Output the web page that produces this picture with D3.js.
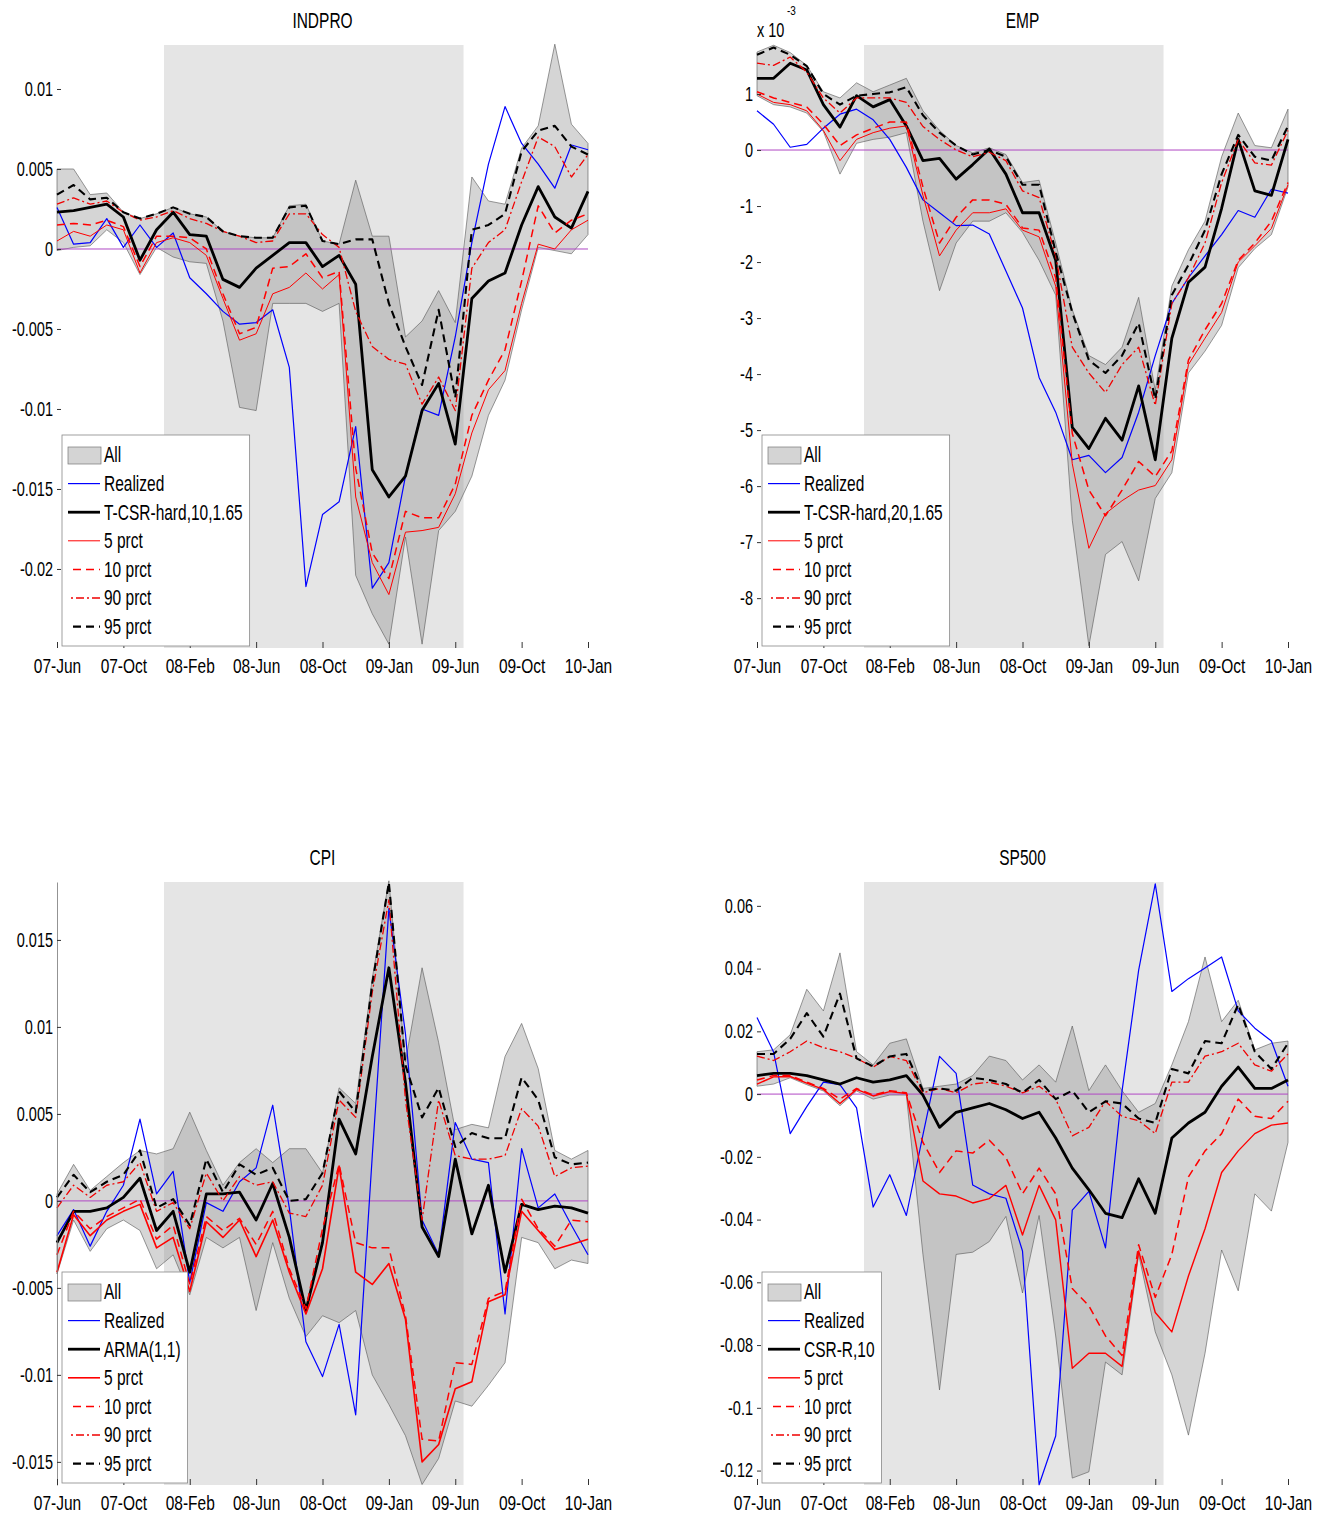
<!DOCTYPE html>
<html>
<head>
<meta charset="utf-8">
<script src="https://cdn.jsdelivr.net/npm/d3@7"></script>
<style>
  body { margin: 0; background: #fff; }
  text { font-family: "Liberation Sans", Arial, sans-serif; fill: #000; }
</style>
</head>
<body>
<div id="chart"></div>
<script>
// ---- data: monthly forecasts, Jun 2007 .. Feb 2010 (33 months) ----
const xTickIdx = [0, 4, 8, 12, 16, 20, 24, 28, 32];
const xTickLabels = ["07-Jun", "07-Oct", "08-Feb", "08-Jun", "08-Oct", "09-Jan", "09-Jun", "09-Oct", "10-Jan"];
const recession = [6.45, 24.5]; // shaded period, in month index units

// INDPRO
const indproRealized = [0.0026, 0.0003, 0.0004, 0.0019, 0.0001, 0.0015, 0.0001, 0.0010, -0.0018, -0.0028, -0.0039, -0.0047, -0.0046, -0.0038, -0.0074, -0.0211, -0.0166, -0.0158, -0.0111, -0.0212, -0.0196, -0.0142, -0.0100, -0.0104, -0.0055, 0.0004, 0.0053, 0.0089, 0.0066, 0.0053, 0.0038, 0.0065, 0.0062];
const indproModel = [0.0023, 0.0024, 0.0026, 0.0028, 0.0020, -0.0007, 0.0012, 0.0023, 0.0009, 0.0008, -0.0019, -0.0024, -0.0012, -0.0004, 0.0004, 0.0004, -0.0011, -0.0004, -0.0022, -0.0138, -0.0155, -0.0142, -0.0101, -0.0084, -0.0122, -0.0031, -0.0020, -0.0015, 0.0015, 0.0039, 0.0020, 0.0013, 0.0036];
const indproP5 = [0.0005, 0.0011, 0.0008, 0.0015, 0.0012, -0.0015, 0.0004, 0.0007, 0.0004, -0.0004, -0.0031, -0.0057, -0.0053, -0.0028, -0.0024, -0.0015, -0.0025, -0.0016, -0.0155, -0.0196, -0.0216, -0.0177, -0.0176, -0.0174, -0.0153, -0.0115, -0.0088, -0.0076, -0.0034, 0.0003, 0.0000, 0.0012, 0.0018];
const indproP10 = [0.0015, 0.0016, 0.0015, 0.0018, 0.0014, -0.0011, 0.0008, 0.0008, 0.0007, 0.0000, -0.0028, -0.0053, -0.0049, -0.0012, -0.0011, -0.0003, -0.0018, -0.0014, -0.0137, -0.0190, -0.0206, -0.0164, -0.0168, -0.0168, -0.0147, -0.0104, -0.0082, -0.0063, -0.0020, 0.0027, 0.0010, 0.0018, 0.0022];
const indproP90 = [0.0028, 0.0032, 0.0028, 0.0030, 0.0023, 0.0018, 0.0020, 0.0024, 0.0019, 0.0016, 0.0011, 0.0008, 0.0004, 0.0005, 0.0022, 0.0022, 0.0009, 0.0001, -0.0039, -0.0061, -0.0069, -0.0072, -0.0097, -0.0080, -0.0101, -0.0012, 0.0004, 0.0012, 0.0042, 0.0070, 0.0064, 0.0045, 0.0059];
const indproP95 = [0.0034, 0.0040, 0.0031, 0.0032, 0.0023, 0.0019, 0.0022, 0.0026, 0.0022, 0.0020, 0.0011, 0.0008, 0.0007, 0.0007, 0.0026, 0.0027, 0.0005, 0.0003, 0.0006, 0.0006, -0.0034, -0.0061, -0.0085, -0.0038, -0.0093, 0.0012, 0.0015, 0.0022, 0.0061, 0.0074, 0.0077, 0.0064, 0.0059];
const indproHi = [0.0050, 0.0050, 0.0034, 0.0035, 0.0023, 0.0019, 0.0022, 0.0026, 0.0022, 0.0020, 0.0011, 0.0008, 0.0007, 0.0007, 0.0027, 0.0028, 0.0005, 0.0003, 0.0043, 0.0008, 0.0008, -0.0055, -0.0045, -0.0026, -0.0046, 0.0045, 0.0030, 0.0028, 0.0063, 0.0077, 0.0128, 0.0078, 0.0066];
const indproLo = [-0.0001, 0.0001, 0.0002, 0.0012, 0.0004, -0.0016, 0.0001, -0.0005, -0.0008, -0.0009, -0.0045, -0.0099, -0.0101, -0.0034, -0.0034, -0.0034, -0.0039, -0.0034, -0.0204, -0.0228, -0.0247, -0.0180, -0.0247, -0.0176, -0.0164, -0.0142, -0.0104, -0.0082, -0.0038, 0.0001, -0.0001, -0.0003, 0.0009];
const indproTicks = [-0.02, -0.015, -0.01, -0.005, 0, 0.005, 0.01];

// EMP (x 1e-3)
const empRealized = [0.70, 0.46, 0.05, 0.10, 0.39, 0.64, 0.73, 0.54, 0.19, -0.31, -0.89, -1.12, -1.35, -1.34, -1.50, -2.16, -2.82, -4.06, -4.68, -5.53, -5.45, -5.76, -5.49, -4.68, -3.67, -2.74, -2.28, -1.89, -1.51, -1.08, -1.20, -0.70, -0.77];
const empModel = [1.28, 1.28, 1.55, 1.43, 0.81, 0.41, 0.97, 0.77, 0.90, 0.43, -0.19, -0.15, -0.52, -0.26, 0.02, -0.43, -1.12, -1.12, -1.97, -4.95, -5.33, -4.79, -5.18, -4.21, -5.53, -3.36, -2.36, -2.09, -1.04, 0.19, -0.73, -0.81, 0.19];
const empP5 = [1.00, 0.85, 0.81, 0.70, 0.35, -0.19, 0.19, 0.31, 0.39, 0.43, -0.81, -1.89, -1.43, -1.12, -1.12, -1.05, -1.43, -1.55, -2.43, -5.60, -7.11, -6.49, -6.26, -6.07, -5.99, -5.53, -3.83, -3.36, -2.90, -2.00, -1.71, -1.40, -0.62];
const empP10 = [1.04, 0.93, 0.85, 0.77, 0.46, 0.08, 0.27, 0.39, 0.50, 0.50, -0.66, -1.66, -1.20, -0.89, -0.89, -0.97, -1.39, -1.43, -2.28, -5.06, -6.07, -6.53, -6.07, -5.56, -5.83, -5.37, -3.75, -3.21, -2.74, -1.97, -1.66, -1.27, -0.58];
const empP90 = [1.55, 1.51, 1.66, 1.39, 0.93, 0.66, 0.93, 0.93, 0.93, 0.85, 0.42, 0.19, 0.00, -0.12, -0.04, -0.19, -0.73, -0.85, -1.89, -3.52, -3.98, -4.33, -3.83, -3.52, -4.56, -2.74, -2.28, -1.66, -0.58, 0.19, -0.23, -0.27, 0.35];
const empP95 = [1.70, 1.83, 1.70, 1.50, 1.00, 0.81, 0.97, 1.00, 1.03, 1.12, 0.62, 0.31, 0.08, -0.08, 0.00, -0.12, -0.62, -0.62, -1.82, -2.90, -3.75, -3.98, -3.67, -3.09, -4.45, -2.59, -2.05, -1.43, -0.43, 0.27, -0.12, -0.19, 0.43];
const empHi = [1.75, 1.87, 1.74, 1.51, 1.04, 0.93, 1.20, 1.04, 1.16, 1.28, 0.70, 0.35, 0.08, -0.05, 0.04, -0.08, -0.58, -0.54, -1.66, -2.85, -3.67, -3.83, -3.52, -2.63, -4.29, -2.43, -1.78, -1.27, -0.12, 0.66, 0.08, 0.04, 0.73];
const empLo = [0.97, 0.81, 0.77, 0.66, 0.33, -0.43, 0.12, 0.19, 0.23, 0.31, -1.27, -2.51, -1.66, -1.27, -1.27, -1.12, -1.47, -1.97, -2.59, -6.61, -8.85, -7.22, -6.99, -7.69, -6.22, -5.76, -3.98, -3.59, -3.13, -2.10, -1.76, -1.51, -0.66];
const empTicks = [-8, -7, -6, -5, -4, -3, -2, -1, 0, 1];

// CPI
const cpiRealized = [-0.0020, -0.0005, -0.0026, -0.0006, 0.0009, 0.0047, 0.0004, 0.0017, -0.0047, -0.0001, -0.0006, 0.0011, 0.0019, 0.0055, -0.0004, -0.0081, -0.0101, -0.0071, -0.0123, 0.0026, 0.0168, 0.0096, -0.0011, -0.0031, 0.0045, 0.0024, 0.0022, -0.0065, 0.0030, -0.0004, 0.0004, -0.0014, -0.0031];
const cpiModel = [-0.0024, -0.0006, -0.0006, -0.0004, 0.0002, 0.0013, -0.0017, -0.0006, -0.0041, 0.0004, 0.0004, 0.0005, -0.0011, 0.0010, -0.0021, -0.0063, -0.0024, 0.0047, 0.0027, 0.0083, 0.0134, 0.0068, -0.0015, -0.0032, 0.0024, -0.0019, 0.0009, -0.0041, -0.0002, -0.0005, -0.0003, -0.0004, -0.0007];
const cpiP5 = [-0.0041, -0.0008, -0.0020, -0.0011, -0.0006, -0.0002, -0.0027, -0.0021, -0.0052, -0.0012, -0.0021, -0.0011, -0.0032, -0.0011, -0.0041, -0.0065, -0.0039, 0.0020, -0.0041, -0.0048, -0.0036, -0.0068, -0.0150, -0.0140, -0.0108, -0.0104, -0.0058, -0.0054, -0.0006, -0.0017, -0.0028, -0.0025, -0.0022];
const cpiP10 = [-0.0031, -0.0006, -0.0016, -0.0009, -0.0004, 0.0001, -0.0022, -0.0014, -0.0048, -0.0009, -0.0017, -0.0010, -0.0025, -0.0006, -0.0039, -0.0062, -0.0016, 0.0021, -0.0024, -0.0027, -0.0027, -0.0066, -0.0137, -0.0138, -0.0093, -0.0094, -0.0056, -0.0052, 0.0001, -0.0016, -0.0026, -0.0011, -0.0012];
const cpiP90 = [-0.0004, 0.0009, 0.0002, 0.0009, 0.0011, 0.0022, -0.0006, -0.0001, -0.0016, 0.0016, 0.0000, 0.0014, 0.0009, 0.0011, -0.0007, -0.0009, 0.0009, 0.0058, 0.0048, 0.0120, 0.0173, 0.0058, -0.0011, 0.0058, 0.0026, 0.0024, 0.0024, 0.0026, 0.0053, 0.0043, 0.0014, 0.0019, 0.0020];
const cpiP95 = [0.0002, 0.0015, 0.0005, 0.0011, 0.0015, 0.0029, -0.0004, 0.0001, -0.0014, 0.0024, 0.0005, 0.0021, 0.0015, 0.0019, 0.0000, 0.0001, 0.0016, 0.0063, 0.0051, 0.0125, 0.0183, 0.0078, 0.0048, 0.0065, 0.0031, 0.0039, 0.0036, 0.0036, 0.0071, 0.0058, 0.0025, 0.0021, 0.0022];
const cpiHi = [0.0004, 0.0021, 0.0006, 0.0014, 0.0022, 0.0029, 0.0027, 0.0030, 0.0051, 0.0029, 0.0009, 0.0022, 0.0030, 0.0022, 0.0030, 0.0030, 0.0016, 0.0065, 0.0056, 0.0128, 0.0184, 0.0080, 0.0134, 0.0091, 0.0041, 0.0044, 0.0042, 0.0083, 0.0102, 0.0076, 0.0029, 0.0024, 0.0029];
const cpiLo = [-0.0042, -0.0011, -0.0029, -0.0016, -0.0011, -0.0017, -0.0039, -0.0031, -0.0054, -0.0021, -0.0027, -0.0021, -0.0063, -0.0024, -0.0056, -0.0078, -0.0066, -0.0070, -0.0063, -0.0100, -0.0117, -0.0135, -0.0163, -0.0148, -0.0115, -0.0118, -0.0106, -0.0093, -0.0021, -0.0024, -0.0039, -0.0034, -0.0036];
const cpiTicks = [-0.015, -0.01, -0.005, 0, 0.005, 0.01, 0.015];

// SP500
const spRealized = [0.0244, 0.0134, -0.0126, -0.0040, 0.0038, 0.0030, -0.0044, -0.0360, -0.0257, -0.0387, -0.0130, 0.0120, 0.0066, -0.0290, -0.0318, -0.0332, -0.0500, -0.1245, -0.1090, -0.0370, -0.0310, -0.0490, 0.0010, 0.0395, 0.0670, 0.0327, 0.0368, 0.0402, 0.0437, 0.0265, 0.0210, 0.0169, 0.0025];
const spModel = [0.0059, 0.0066, 0.0066, 0.0059, 0.0045, 0.0032, 0.0052, 0.0038, 0.0045, 0.0059, -0.0003, -0.0106, -0.0058, -0.0044, -0.0030, -0.0050, -0.0078, -0.0058, -0.0140, -0.0236, -0.0305, -0.0380, -0.0394, -0.0270, -0.0380, -0.0140, -0.0092, -0.0058, 0.0025, 0.0086, 0.0018, 0.0018, 0.0045];
const spP5 = [0.0032, 0.0055, 0.0056, 0.0035, 0.0015, -0.0030, 0.0015, -0.0006, 0.0008, 0.0002, -0.0277, -0.0318, -0.0325, -0.0347, -0.0333, -0.0291, -0.0449, -0.0291, -0.0401, -0.0874, -0.0826, -0.0826, -0.0868, -0.0500, -0.0696, -0.0758, -0.0580, -0.0429, -0.0250, -0.0181, -0.0126, -0.0099, -0.0092];
const spP10 = [0.0045, 0.0059, 0.0059, 0.0038, 0.0018, -0.0016, 0.0018, -0.0003, 0.0011, 0.0004, -0.0154, -0.0250, -0.0181, -0.0188, -0.0147, -0.0202, -0.0318, -0.0236, -0.0318, -0.0620, -0.0675, -0.0771, -0.0833, -0.0480, -0.0648, -0.0511, -0.0264, -0.0181, -0.0126, -0.0016, -0.0071, -0.0078, -0.0023];
const spP90 = [0.0121, 0.0107, 0.0135, 0.0169, 0.0148, 0.0135, 0.0114, 0.0086, 0.0120, 0.0107, 0.0004, 0.0018, 0.0004, 0.0032, 0.0038, 0.0025, 0.0004, 0.0025, -0.0016, -0.0133, -0.0106, -0.0023, -0.0071, -0.0085, -0.0126, 0.0038, 0.0038, 0.0121, 0.0135, 0.0162, 0.0093, 0.0073, 0.0128];
const spP95 = [0.0128, 0.0128, 0.0176, 0.0258, 0.0183, 0.0320, 0.0114, 0.0088, 0.0120, 0.0128, 0.0011, 0.0018, 0.0011, 0.0052, 0.0045, 0.0032, 0.0004, 0.0045, -0.0016, 0.0011, -0.0058, -0.0023, -0.0030, -0.0078, -0.0092, 0.0080, 0.0066, 0.0169, 0.0162, 0.0286, 0.0135, 0.0080, 0.0162];
const spHi = [0.0135, 0.0141, 0.0189, 0.0334, 0.0265, 0.0450, 0.0135, 0.0093, 0.0162, 0.0176, 0.0018, 0.0025, 0.0032, 0.0059, 0.0121, 0.0107, 0.0045, 0.0093, 0.0038, 0.0217, 0.0011, 0.0093, 0.0011, -0.0058, -0.0030, 0.0093, 0.0231, 0.0437, 0.0231, 0.0299, 0.0141, 0.0162, 0.0169];
const spLo = [0.0025, 0.0032, 0.0052, 0.0030, 0.0010, -0.0037, 0.0010, -0.0016, -0.0003, -0.0003, -0.0511, -0.0943, -0.0511, -0.0504, -0.0470, -0.0390, -0.0634, -0.0387, -0.0771, -0.1224, -0.1204, -0.0854, -0.0895, -0.0511, -0.0758, -0.0895, -0.1087, -0.0826, -0.0497, -0.0627, -0.0318, -0.0373, -0.0154];
const spTicks = [-0.12, -0.1, -0.08, -0.06, -0.04, -0.02, 0, 0.02, 0.04, 0.06];

// ---- layout ----
const W = 1325, H = 1517;
const plotW = 531, plotH = 603;
const textSY = 1.37; // the original text is tall and narrow

const panels = [
  { title: "INDPRO", model: "T-CSR-hard,10,1.65", left: 57, top: 45, ylim: [-0.02494, 0.01275], ticks: indproTicks, p5w: 1,
    s: { realized: indproRealized, model: indproModel, p5: indproP5, p10: indproP10, p90: indproP90, p95: indproP95, lo: indproLo, hi: indproHi } },
  { title: "EMP", model: "T-CSR-hard,20,1.65", left: 757, top: 45, ylim: [-8.89, 1.875], ticks: empTicks, p5w: 1, exponent: "-3",
    s: { realized: empRealized, model: empModel, p5: empP5, p10: empP10, p90: empP90, p95: empP95, lo: empLo, hi: empHi } },
  { title: "CPI", model: "ARMA(1,1)", left: 57, top: 882, ylim: [-0.01633, 0.01833], ticks: cpiTicks, p5w: 1.6, axisLine: true,
    s: { realized: cpiRealized, model: cpiModel, p5: cpiP5, p10: cpiP10, p90: cpiP90, p95: cpiP95, lo: cpiLo, hi: cpiHi } },
  { title: "SP500", model: "CSR-R,10", left: 757, top: 882, ylim: [-0.1246, 0.0676], ticks: spTicks, p5w: 1.4,
    s: { realized: spRealized, model: spModel, p5: spP5, p10: spP10, p90: spP90, p95: spP95, lo: spLo, hi: spHi } }
];

const svg = d3.select("#chart").append("svg")
  .attr("width", W).attr("height", H)
  .style("background", "#fff");

// text drawn through a vertical stretch
function label(g, x, y, str, size, anchor, baseline) {
  return g.append("text")
    .attr("transform", `translate(${x},${y}) scale(1,${textSY})`)
    .attr("text-anchor", anchor || "start")
    .attr("dominant-baseline", baseline || "auto")
    .style("font-size", size + "px")
    .text(str);
}

const fmt = d => String(+d.toFixed(4));

function drawPanel(p) {
  const n = p.s.realized.length;
  const x = d3.scaleLinear().domain([0, n - 1]).range([p.left, p.left + plotW]);
  const y = d3.scaleLinear().domain(p.ylim).range([p.top + plotH, p.top]);
  const g = svg.append("g");

  // recession shading
  g.append("rect")
    .attr("x", x(recession[0])).attr("y", p.top)
    .attr("width", x(recession[1]) - x(recession[0])).attr("height", plotH)
    .attr("fill", "#e5e5e5");

  // "All" band
  const area = d3.area()
    .x(i => x(i))
    .y0(i => y(p.s.lo[i]))
    .y1(i => y(p.s.hi[i]));
  g.append("path").datum(d3.range(n))
    .attr("d", area)
    .attr("fill", "#8a8a8a").attr("fill-opacity", 0.36)
    .attr("stroke", "#555").attr("stroke-width", 0.6);

  // zero line
  g.append("line")
    .attr("x1", x(0)).attr("x2", x(n - 1))
    .attr("y1", y(0)).attr("y2", y(0))
    .attr("stroke", "#b048c4").attr("stroke-width", 1);

  const styles = [
    { key: "realized", color: "#0000ff", w: 1.2, dash: null, label: "Realized" },
    { key: "model", color: "#000", w: 2.8, dash: null, label: p.model },
    { key: "p5", color: "#ff0000", w: p.p5w, dash: null, label: "5 prct" },
    { key: "p10", color: "#ff0000", w: 1.5, dash: "8,5", label: "10 prct" },
    { key: "p90", color: "#f00000", w: 1.3, dash: "8,3,2,3", label: "90 prct" },
    { key: "p95", color: "#000", w: 2.1, dash: "8,5", label: "95 prct" }
  ];

  const line = d3.line().x((d, i) => x(i)).y(d => y(d));
  styles.forEach(st => {
    g.append("path").datum(p.s[st.key])
      .attr("d", line)
      .attr("fill", "none")
      .attr("stroke", st.color)
      .attr("stroke-width", st.w)
      .attr("stroke-linejoin", "round")
      .attr("stroke-dasharray", st.dash);
  });

  // axes
  const yAxis = g.append("g")
    .attr("transform", `translate(${p.left},0)`)
    .call(d3.axisLeft(y).tickValues(p.ticks).tickFormat(fmt).tickSizeInner(-4).tickSizeOuter(0).tickPadding(4));
  yAxis.attr("color", "#333");
  if (!p.axisLine) yAxis.select(".domain").remove();
  else yAxis.select(".domain").attr("stroke", "#777").attr("stroke-width", 0.8);
  yAxis.selectAll(".tick text")
    .attr("transform", `scale(1,${textSY})`)
    .style("font-size", "14.5px").attr("fill", "#000");

  const xAxis = g.append("g")
    .attr("transform", `translate(0,${p.top + plotH})`)
    .call(d3.axisBottom(x).tickValues(xTickIdx).tickFormat((d, i) => xTickLabels[i]).tickSizeInner(-6).tickSizeOuter(0).tickPadding(8));
  xAxis.attr("color", "#333");
  xAxis.select(".domain").remove();
  xAxis.selectAll(".tick text")
    .attr("transform", `scale(1,1.33)`)
    .style("font-size", "15.5px").attr("fill", "#000");

  // title
  label(g, (x(0) + x(n - 1)) / 2, p.top - 17, p.title, 15.5, "middle");

  // exponent note
  if (p.exponent) {
    label(g, p.left, p.top - 8, "x 10", 14.5, "start");
    label(g, p.left + 30, p.top - 30, p.exponent, 10, "start");
  }

  // legend
  const rowH = 28.6;
  const boxH = 211;
  const boxTop = p.top + plotH - 2 - boxH;
  const bx = p.left + 5;
  const leg = g.append("g");
  const box = leg.append("rect")
    .attr("x", bx).attr("y", boxTop).attr("height", boxH)
    .attr("fill", "#fff").attr("stroke", "#888").attr("stroke-width", 0.8);
  const items = [{ label: "All", box: true }].concat(styles);
  let maxW = 0;
  items.forEach((it, k) => {
    const cy = boxTop + 20 + k * rowH;
    if (it.box) {
      leg.append("rect")
        .attr("x", bx + 6).attr("y", cy - 8).attr("width", 33).attr("height", 17)
        .attr("fill", "#d4d4d4").attr("stroke", "#777").attr("stroke-width", 0.7);
    } else {
      leg.append("line")
        .attr("x1", bx + 6).attr("x2", bx + 38).attr("y1", cy).attr("y2", cy)
        .attr("stroke", it.color).attr("stroke-width", it.w)
        .attr("stroke-dasharray", it.dash)
        .attr("stroke-dashoffset", it.dash ? 8 : null);
    }
    const t = label(leg, bx + 42, cy, it.label, 15.5, "start", "central");
    maxW = Math.max(maxW, t.node().getComputedTextLength());
  });
  box.attr("width", 42 + maxW + 7);
}

panels.forEach(drawPanel);
</script>
</body>
</html>
